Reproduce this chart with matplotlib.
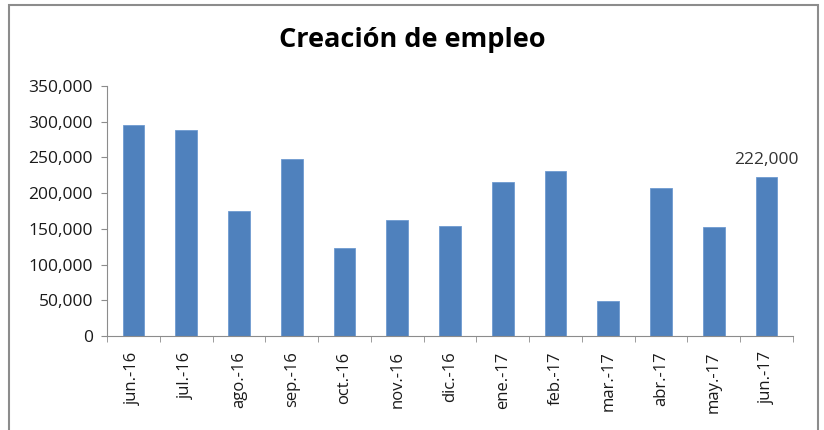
import matplotlib.pyplot as plt
import matplotlib.ticker as mticker
from matplotlib.patches import Rectangle
import numpy as np

plt.rcParams['font.family'] = ['Open Sans', 'DejaVu Sans']

# datos
meses = ['jun.-16', 'jul.-16', 'ago.-16', 'sep.-16', 'oct.-16', 'nov.-16', 'dic.-16',
         'ene.-17', 'feb.-17', 'mar.-17', 'abr.-17', 'may.-17', 'jun.-17']
empleo = [296000, 289000, 175000, 248000, 123000, 162000, 154000,
          215000, 231000, 49000, 207000, 152000, 222000]

fig = plt.figure(figsize=(8.24, 4.30), dpi=100)
ax = fig.add_axes([107 / 824, 1 - 336 / 430, (793 - 107) / 824, (336 - 86) / 430])

# marco del grafico
fig.patches.append(Rectangle((8.5 / 824, -0.05), (818 - 8.5) / 824, 1.05 - 4.5 / 430,
                             transform=fig.transFigure, fill=False,
                             edgecolor='#8c8c8c', linewidth=1.5))

x = np.arange(len(meses))
ax.bar(x, empleo, width=0.41, color='#4F81BD', edgecolor='#6f9bd1', linewidth=0.6)

ax.set_xlim(-0.5, len(meses) - 0.5)
ax.set_ylim(0, 350000)
ax.yaxis.set_major_locator(mticker.MultipleLocator(50000))
ax.yaxis.set_major_formatter(mticker.FuncFormatter(lambda v, p: f'{int(v):,}'))

ax.set_xticks(x)
ax.set_xticklabels(meses, rotation=90, fontsize=12, color='#1a1a1a')
ax.set_xticks(np.arange(len(meses) + 1) - 0.5, minor=True)
ax.tick_params(axis='x', which='major', length=0, pad=11)
ax.tick_params(axis='x', which='minor', length=4, color='#8c8c8c', direction='out')
ax.tick_params(axis='y', length=4, color='#8c8c8c', labelsize=12.5, labelcolor='#1a1a1a', pad=6)

for s in ['top', 'right']:
    ax.spines[s].set_visible(False)
for s in ['left', 'bottom']:
    ax.spines[s].set_color('#8c8c8c')

# etiqueta del ultimo valor
ax.annotate(f'{empleo[-1]:,}', (x[-1], empleo[-1]), xytext=(0, 7), textcoords='offset points',
            ha='center', va='bottom', fontsize=12.5, color='#333333')

fig.text(412 / 824, 1 - 40 / 430, 'Creación de empleo', ha='center', va='center',
         fontsize=19.5, fontweight='bold')

fig.savefig('out.png', dpi=100)
